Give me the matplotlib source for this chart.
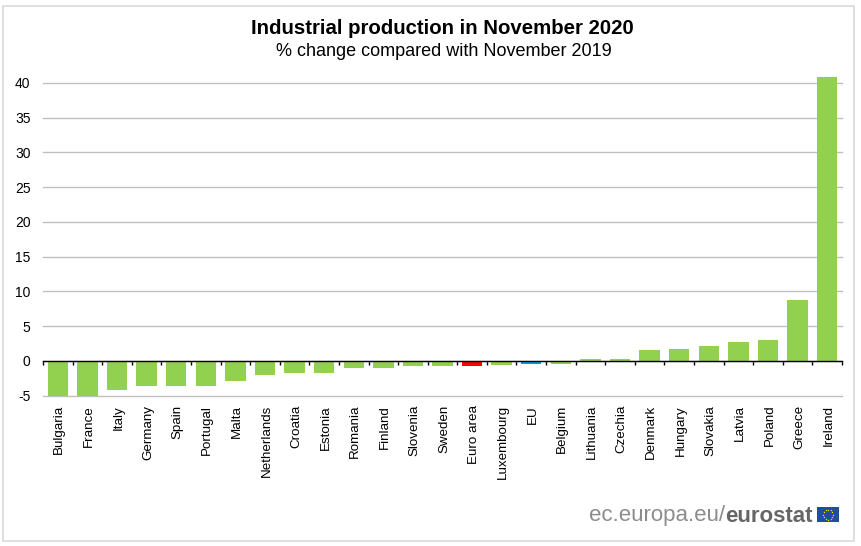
import matplotlib
matplotlib.use('Agg')
from matplotlib import pyplot as plt
from matplotlib.patches import Rectangle
import numpy as np

plt.rcParams['font.family'] = ['Liberation Sans', 'DejaVu Sans']
plt.rcParams['axes.unicode_minus'] = False

countries = ['Bulgaria', 'France', 'Italy', 'Germany', 'Spain', 'Portugal', 'Malta',
             'Netherlands', 'Croatia', 'Estonia', 'Romania', 'Finland', 'Slovenia',
             'Sweden', 'Euro area', 'Luxembourg', 'EU', 'Belgium', 'Lithuania',
             'Czechia', 'Denmark', 'Hungary', 'Slovakia', 'Latvia', 'Poland',
             'Greece', 'Ireland']
changes = [-5.0, -5.0, -4.2, -3.7, -3.7, -3.6, -2.9, -2.0, -1.7, -1.7, -1.0, -1.0, -0.8,
           -0.7, -0.7, -0.6, -0.4, -0.4, 0.2, 0.3, 1.5, 1.7, 2.2, 2.7, 3.0, 8.8, 40.8]
yticks = [-5, 0, 5, 10, 15, 20, 25, 30, 35, 40]

W, H = 861, 546
GREEN = '#92d050'

colors = []
for c in countries:
    if c == 'Euro area':
        colors.append('#ff0000')
    elif c == 'EU':
        colors.append('#00a0e0')
    else:
        colors.append(GREEN)

fig = plt.figure(figsize=(W / 100, H / 100), dpi=100)

# outer frame
fig.add_artist(Rectangle((2.5 / W, 1 - 540.5 / H), 851.5 / W, 535 / H, transform=fig.transFigure,
                         fill=False, edgecolor='#d9d9d9', linewidth=1.2))

ax = fig.add_axes([43 / W, 1 - 395.5 / H, 799 / W, (395.5 - 83) / H])
x = np.arange(len(countries))
ax.bar(x, changes, width=0.69, color=colors, zorder=3, clip_on=False)
ax.set_xlim(-0.5, len(countries) - 0.5)
ax.set_ylim(-5, 40)

ax.set_yticks(yticks)
ax.grid(axis='y', color='#bfbfbf', linewidth=1, zorder=0)
for line in ax.get_ygridlines():
    line.set_clip_on(False)
ax.tick_params(axis='y', length=0, labelsize=10, pad=9, labelcolor='black')
ax.set_xticks(np.arange(len(countries) + 1) - 0.5)
ax.set_xticklabels([])
ax.tick_params(axis='x', length=3, width=1, color='black', direction='out')

# country names hang below the -5 line, not at the zero line
for xi, name in zip(x, countries):
    ax.text(xi + 0.05, -0.03, name, transform=ax.get_xaxis_transform(), rotation=90,
            ha='center', va='top', fontsize=9.6)

for s in ['top', 'left', 'right']:
    ax.spines[s].set_visible(False)
ax.spines['bottom'].set_position(('data', 0))
ax.spines['bottom'].set_color('black')
ax.spines['bottom'].set_linewidth(1)
ax.spines['bottom'].set_zorder(4)

fig.text(442.5 / W, 1 - 29 / H, 'Industrial production in November 2020', ha='center', va='center',
         fontsize=14.7, fontweight='bold')
fig.text(443.5 / W, 1 - 51.5 / H, '% change compared with November 2019', ha='center', va='center',
         fontsize=13)

# eurostat logo
t1 = fig.text(589 / W, 1 - 521.5 / H, 'ec.europa.eu/', ha='left', va='baseline', fontsize=16,
              color='#8c8c8c')
fig.canvas.draw()
bb = t1.get_window_extent()
fig.text(bb.x1 / W, 1 - 521.5 / H, 'eurostat', ha='left', va='baseline', fontsize=16,
         fontweight='bold', color='#666666')
fig.add_artist(Rectangle((817 / W, 1 - 522 / H), 22 / W, 15 / H, transform=fig.transFigure,
                         facecolor='#1f4ea1', edgecolor='none'))
angles = np.arange(12) * np.pi / 6
fig.add_artist(plt.Line2D((828 + 5 * np.cos(angles)) / W, (H - 514.5 + 5 * np.sin(angles)) / H,
                          linestyle='none', marker='o', markersize=1, color='#ffd500',
                          markeredgewidth=0, transform=fig.transFigure))

fig.savefig('out.png', dpi=100)
